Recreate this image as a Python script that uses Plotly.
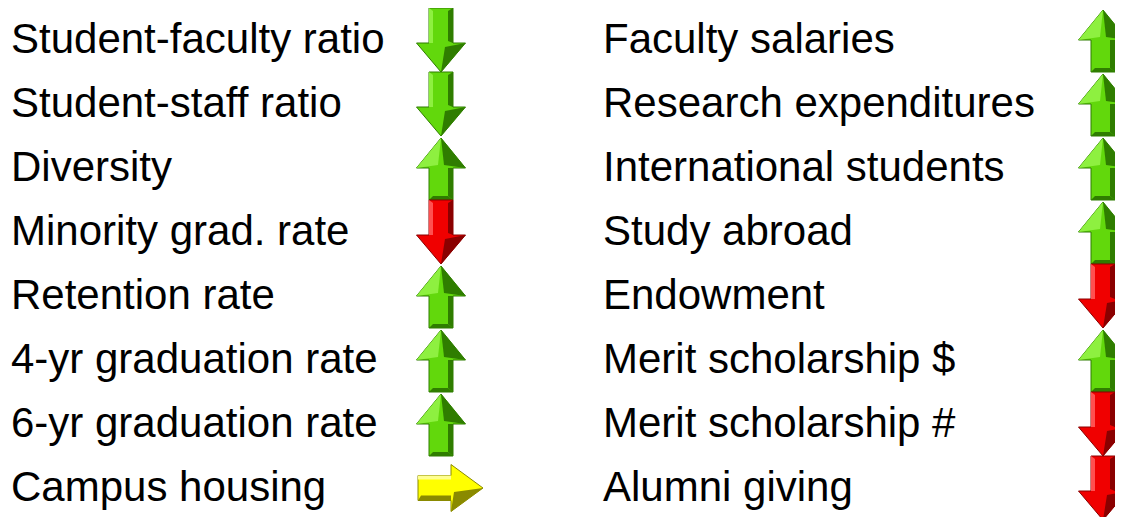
import plotly.graph_objects as go

left_labels = ["Student-faculty ratio", "Student-staff ratio", "Diversity", "Minority grad. rate",
               "Retention rate", "4-yr graduation rate", "6-yr graduation rate", "Campus housing"]
left_dirs = ["down", "down", "up", "down", "up", "up", "up", "right"]
left_colors = ["green", "green", "green", "red", "green", "green", "green", "yellow"]

right_labels = ["Faculty salaries", "Research expenditures", "International students", "Study abroad",
                "Endowment", "Merit scholarship $", "Merit scholarship #", "Alumni giving"]
right_dirs = ["up", "up", "up", "up", "down", "up", "down", "down"]
right_colors = ["green", "green", "green", "green", "red", "green", "red", "red"]

PALETTE = {
    "green": ("#62d80c", "#2f7d00", "#8ef040"),
    "red": ("#f00000", "#8a0000", "#ff5050"),
    "yellow": ("#ffff00", "#8a8a00", "#ffff90"),
}

W, H = 1123, 517
OFF = 8  # default page margin of the html body
ROW0, PITCH = 40, 64
COLS = [(9, 441), (601, 1103)]

fig = go.Figure()


def poly(xs, ys, fill, line=None, width=0):
    fig.add_trace(go.Scatter(x=xs + [xs[0]], y=ys + [ys[0]], mode="lines", fill="toself",
                             fillcolor=fill, line=dict(color=line or fill, width=width),
                             hoverinfo="skip", showlegend=False))


def arrow(cx, cy, d, color):
    main, dark, light = PALETTE[color]
    if d == "down":
        top, hb, tip = cy - 32, cy + 3, cy + 32
        sw, hw = 12, 24.5
        xs = [cx - sw, cx + sw, cx + sw, cx + hw, cx, cx - hw, cx - sw]
        ys = [top, top, hb, hb, tip, hb, hb]
        poly(xs, ys, main, dark, 1)
        poly([cx + sw - 5, cx + sw, cx + sw, cx + sw - 5], [top + 3, top, hb, hb - 2], dark)
        poly([cx + 4, cx + hw, cx], [hb + 4, hb, tip], dark)
        poly([cx - sw, cx - sw + 4, cx - sw + 4, cx - sw], [top, top + 3, hb, hb], light)
    elif d == "up":
        tip, hb, bot = cy - 30, cy, cy + 32
        sw, hw = 12, 24.5
        xs = [cx, cx + hw, cx + sw, cx + sw, cx - sw, cx - sw, cx - hw]
        ys = [tip, hb, hb, bot, bot, hb, hb]
        poly(xs, ys, main, dark, 1)
        poly([cx + sw - 5, cx + sw, cx + sw, cx + sw - 5], [hb, hb, bot, bot - 4], dark)
        poly([cx - sw, cx + sw, cx + sw - 5, cx - sw + 4], [bot, bot, bot - 4, bot - 4], dark)
        poly([cx, cx + hw, cx + 3], [tip, hb, hb - 3], dark)
        poly([cx, cx - 3, cx - hw], [tip, hb - 3, hb], light)
    else:  # right
        left, hb, tip = cx - 23, cx + 10, cx + 42
        sh, hh = 12.5, 23.5
        xs = [left, hb, hb, tip, hb, hb, left]
        ys = [cy - sh, cy - sh, cy - hh, cy, cy + hh, cy + sh, cy + sh]
        poly(xs, ys, main, dark, 1)
        poly([left, hb, hb, left + 3], [cy + sh, cy + sh, cy + sh - 5, cy + sh - 5], dark)
        poly([hb + 3, tip, hb], [cy + 4, cy, cy + hh], dark)
        poly([left, hb, hb, left], [cy - sh, cy - sh, cy - sh + 4, cy - sh + 4], light)


annotations = []
for (tx, ax), labels, dirs, colors in [(COLS[0], left_labels, left_dirs, left_colors),
                                       (COLS[1], right_labels, right_dirs, right_colors)]:
    for i, (lab, d, c) in enumerate(zip(labels, dirs, colors)):
        cy = ROW0 + PITCH * i
        arrow(ax, cy, d, c)
        annotations.append(dict(x=tx, y=cy, text=lab, xref="x", yref="y", xanchor="left",
                                yanchor="middle", showarrow=False, yshift=2,
                                font=dict(family="Liberation Sans, Arial, sans-serif", size=42, color="black")))

fig.update_layout(
    width=W, height=H, margin=dict(l=0, r=0, t=0, b=0),
    paper_bgcolor="white", plot_bgcolor="white",
    xaxis=dict(range=[OFF, W + OFF], visible=False, fixedrange=True),
    yaxis=dict(range=[H + OFF, OFF], visible=False, fixedrange=True),
    annotations=annotations, showlegend=False,
)
fig.write_html("out.html")
